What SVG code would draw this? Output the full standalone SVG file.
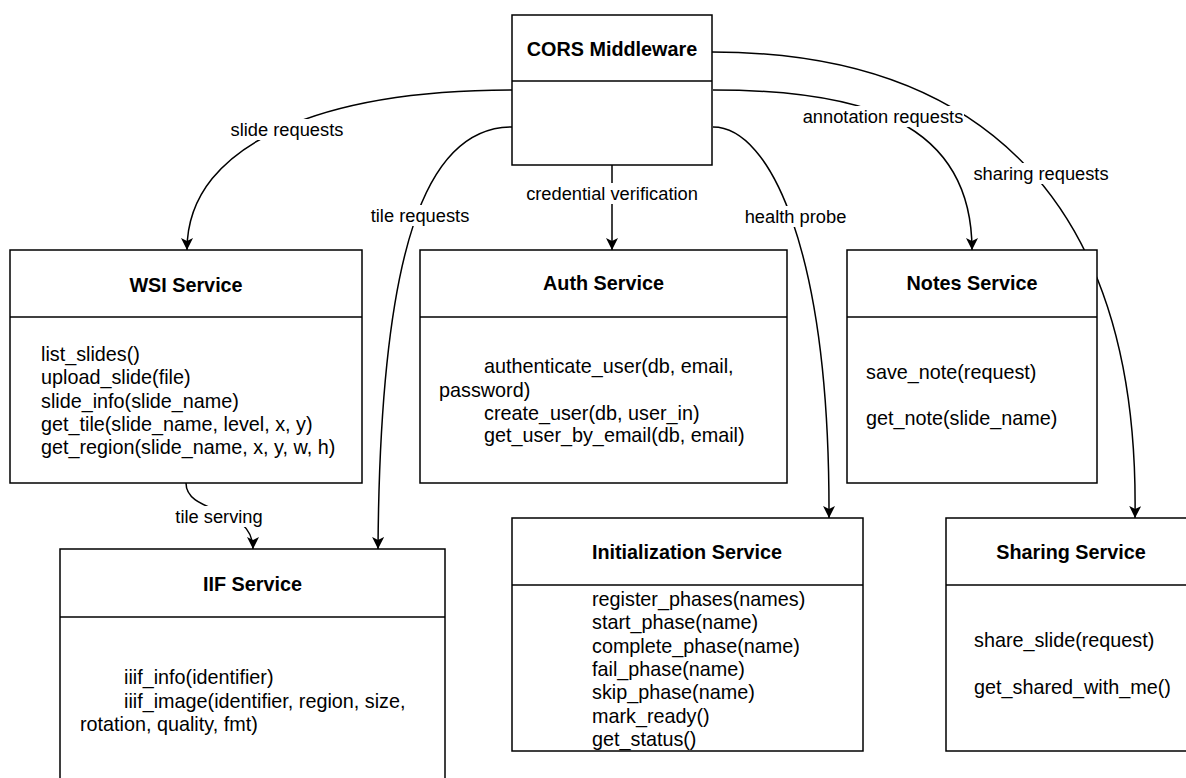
<svg xmlns="http://www.w3.org/2000/svg" width="1186" height="778" viewBox="0 0 1186 778">
<defs>
<style>
.box{fill:#fff;stroke:#000;stroke-width:1.5}
.div{stroke:#000;stroke-width:1.5}
.title{font-family:"Liberation Sans",Arial,Helvetica,sans-serif;font-size:19.8px;font-weight:bold;fill:#000;text-anchor:middle}
.body{font-family:"Liberation Sans",Arial,Helvetica,sans-serif;font-size:19.8px;fill:#000}
.edge{fill:none;stroke:#000;stroke-width:1.5}
.lbl{font-family:"Liberation Sans",Arial,Helvetica,sans-serif;font-size:18.3px;fill:#000;text-anchor:middle}
.lblbg{fill:#fff}
</style>
<marker id="arr" markerUnits="userSpaceOnUse" markerWidth="13" markerHeight="12" refX="12" refY="6" orient="auto">
<path d="M0,0 L12,6 L0,12 L3,6 z" fill="#000"/>
</marker>
</defs>
<rect x="0" y="0" width="1186" height="778" fill="#fff"/>
<g id="connectors">
<path class="edge" d="M512,90 C 330,90 187,140 187,250" marker-end="url(#arr)"/>
<path class="edge" d="M512,127 C 425,127 380,250 378,549" marker-end="url(#arr)"/>
<path class="edge" d="M612,165 L612,250" marker-end="url(#arr)"/>
<path class="edge" d="M713,127 C 770,127 830,250 829,518" marker-end="url(#arr)"/>
<path class="edge" d="M713,90 C 860,90 972,120 972,250" marker-end="url(#arr)"/>
<path class="edge" d="M712,52 C 980,52 1140,200 1135,518" marker-end="url(#arr)"/>
<path class="edge" d="M186,483 C 186,515 253,505 253,549" marker-end="url(#arr)"/>
<rect class="lblbg" x="230" y="119" width="114" height="21"/>
<text class="lbl" x="287" y="136">slide requests</text>
<rect class="lblbg" x="370" y="205" width="100" height="21"/>
<text class="lbl" x="420" y="222">tile requests</text>
<rect class="lblbg" x="526" y="183" width="173" height="21"/>
<text class="lbl" x="612" y="200">credential verification</text>
<rect class="lblbg" x="744" y="206" width="103" height="21"/>
<text class="lbl" x="795.5" y="223">health probe</text>
<rect class="lblbg" x="802" y="106" width="162" height="21"/>
<text class="lbl" x="883" y="123">annotation requests</text>
<rect class="lblbg" x="973" y="163" width="136" height="21"/>
<text class="lbl" x="1041" y="180">sharing requests</text>
<rect class="lblbg" x="175" y="506" width="89" height="21"/>
<text class="lbl" x="219" y="523">tile serving</text>
</g>
<g id="node-cors">
<rect class="box" x="512" y="15" width="200" height="150"/>
<line class="div" x1="512" y1="81" x2="712" y2="81"/>
<text class="title" x="612" y="56">CORS Middleware</text>
</g>
<g id="node-wsi">
<rect class="box" x="10" y="250" width="352" height="233"/>
<line class="div" x1="10" y1="317" x2="362" y2="317"/>
<text class="title" x="186" y="292">WSI Service</text>
<text class="body" x="41" y="361">list_slides()</text>
<text class="body" x="41" y="384.3">upload_slide(file)</text>
<text class="body" x="41" y="407.7">slide_info(slide_name)</text>
<text class="body" x="41" y="431">get_tile(slide_name, level, x, y)</text>
<text class="body" x="41" y="454.3">get_region(slide_name, x, y, w, h)</text>
</g>
<g id="node-auth">
<rect class="box" x="420" y="250" width="367" height="233"/>
<line class="div" x1="420" y1="317" x2="787" y2="317"/>
<text class="title" x="603.5" y="290">Auth Service</text>
<text class="body" x="484" y="373">authenticate_user(db, email,</text>
<text class="body" x="439" y="397">password)</text>
<text class="body" x="484" y="420">create_user(db, user_in)</text>
<text class="body" x="484" y="442">get_user_by_email(db, email)</text>
</g>
<g id="node-notes">
<rect class="box" x="847" y="250" width="250" height="233"/>
<line class="div" x1="847" y1="317" x2="1097" y2="317"/>
<text class="title" x="972" y="290">Notes Service</text>
<text class="body" x="866" y="379">save_note(request)</text>
<text class="body" x="866" y="425">get_note(slide_name)</text>
</g>
<g id="node-iif">
<rect class="box" x="60" y="549" width="385" height="245"/>
<line class="div" x1="60" y1="617" x2="445" y2="617"/>
<text class="title" x="252.5" y="591">IIF Service</text>
<text class="body" x="124" y="684">iiif_info(identifier)</text>
<text class="body" x="124" y="708">iiif_image(identifier, region, size,</text>
<text class="body" x="80" y="731">rotation, quality, fmt)</text>
</g>
<g id="node-init">
<rect class="box" x="512" y="518" width="351" height="233"/>
<line class="div" x1="512" y1="585" x2="863" y2="585"/>
<text class="title" x="687" y="559">Initialization Service</text>
<text class="body" x="592" y="606">register_phases(names)</text>
<text class="body" x="592" y="629.3">start_phase(name)</text>
<text class="body" x="592" y="652.7">complete_phase(name)</text>
<text class="body" x="592" y="676">fail_phase(name)</text>
<text class="body" x="592" y="699.3">skip_phase(name)</text>
<text class="body" x="592" y="722.7">mark_ready()</text>
<text class="body" x="592" y="746">get_status()</text>
</g>
<g id="node-sharing">
<rect class="box" x="946" y="518" width="250" height="233"/>
<line class="div" x1="946" y1="585" x2="1196" y2="585"/>
<text class="title" x="1071" y="559">Sharing Service</text>
<text class="body" x="974" y="647">share_slide(request)</text>
<text class="body" x="974" y="694">get_shared_with_me()</text>
</g>
</svg>
